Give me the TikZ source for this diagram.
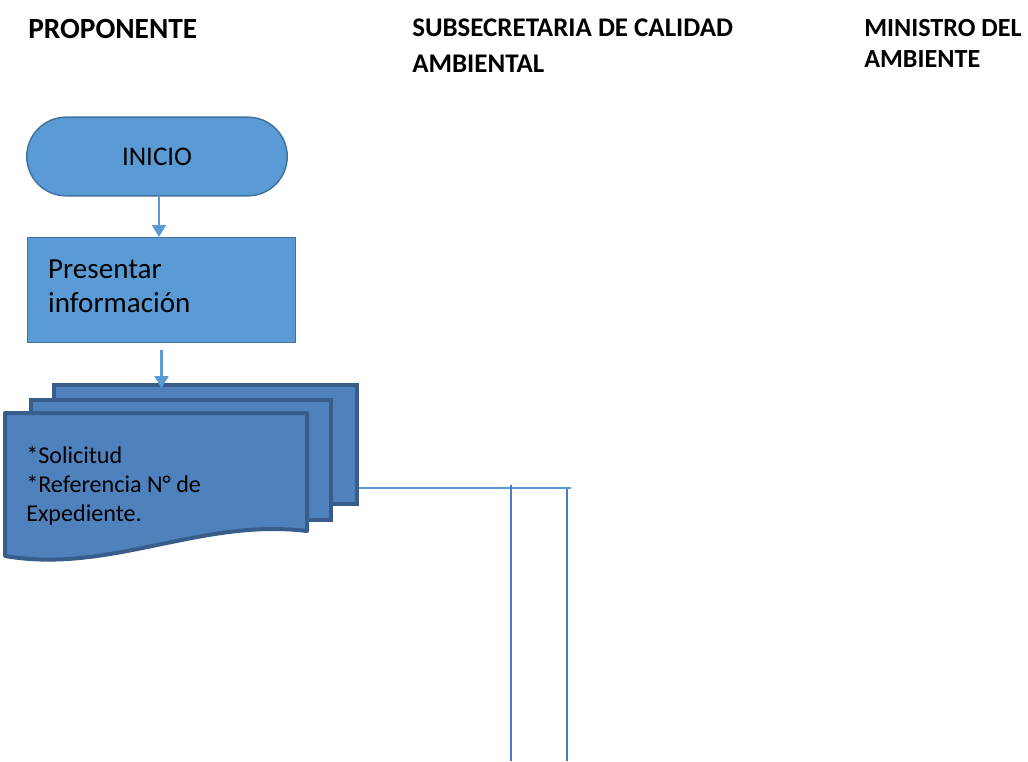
\documentclass[tikz,border=0pt]{standalone}
\usepackage{fontspec}
\setmainfont{Carlito}
\usetikzlibrary{positioning, arrows.meta, shapes.misc}

\definecolor{termfill}{HTML}{5B9BD5}
\definecolor{termedge}{HTML}{41719C}
\definecolor{docfill}{HTML}{4F81BD}
\definecolor{docedge}{HTML}{385D8A}
\definecolor{wireblue}{HTML}{4A7EBB}

\begin{document}
\begin{tikzpicture}[
		x=0.75pt, y=-0.75pt,
		>=Triangle,
		header/.style={anchor=north west, align=left, inner sep=0pt},
		terminal/.style={rounded rectangle, draw=termedge, fill=termfill, line width=1.1pt, minimum width=202pt, minimum height=59pt, font=\fontsize{20.2}{24}\selectfont},
		process/.style={rectangle, draw=termedge, fill=termfill, line width=1.1pt, minimum width=201pt, minimum height=79pt, text width=170pt, text height=8pt, inner xsep=15.5pt, align=left, font=\fontsize{21.8}{25.5}\selectfont},
		page/.style={rectangle, draw=docedge, fill=docfill, line width=3pt, inner sep=0pt, anchor=north west},
		doctext/.style={font=\fontsize{18.1}{21.75}\selectfont, align=left, inner sep=0pt, anchor=west},
		flow/.style={->, draw=termfill, line width=1.6pt, arrows={-Triangle[width=10.5pt, length=9pt]}},
		wire/.style={draw=termfill, line width=1.6pt},
		drop/.style={draw=wireblue, line width=1.6pt}
		]
		\useasboundingbox (0,0) rectangle (1028,761);
		
		% ==========================================
		% lane headers
		% ==========================================
		\node[header, font=\fontsize{22}{27}\selectfont\bfseries] (hdr_prop) at (28,19) {PROPONENTE};
		\node[header, font=\fontsize{20.2}{26.5}\selectfont\bfseries] (hdr_subs) at (412,19) {SUBSECRETARIA DE CALIDAD\\AMBIENTAL};
		\node[header, font=\fontsize{19.6}{23.25}\selectfont\bfseries] (hdr_min) at (864,19) {MINISTRO DEL\\AMBIENTE};
		
		% ==========================================
		% proponente lane
		% ==========================================
		\node[terminal] (inicio) at (157,156.5) {INICIO};
		\node[process] (presentar) at (161.5,290) {Presentar\\información};
		\draw[flow] (inicio.south -| 159,0) -- (159,237);
		
		% stacked documents
		\node[page, minimum width=227pt, minimum height=89pt] (doc_back) at (52,383) {};
		\node[page, minimum width=225pt, minimum height=90pt] (doc_mid) at (29,398) {};
		\draw[docedge, fill=docfill, line width=3pt, line join=round]
			(5,413) coordinate (doc_front) -- (307,413) -- (307,531)
			.. controls (200,518) and (110,574) .. (5,556) -- cycle;
		\node[doctext] (doc_txt) at (26,486) {*Solicitud\\*Referencia N° de\\Expediente.};
		
		\draw[flow] ([yshift=-5.25pt]presentar.south) -- ([yshift=-3.75pt]presentar.south |- doc_back.north);
		
		% ==========================================
		% connectors towards subsecretaria
		% ==========================================
		\coordinate (h_end) at (571,488);
		\coordinate (v_one) at (511,485);
		\coordinate (v_two) at (567,489);
		\draw[wire] (doc_back.east |- h_end) -- (h_end);
		\draw[drop] (v_one) -- (v_one |- 0,761);
		\draw[drop] (v_two) -- (v_two |- 0,761);
	\end{tikzpicture}
\end{document}
